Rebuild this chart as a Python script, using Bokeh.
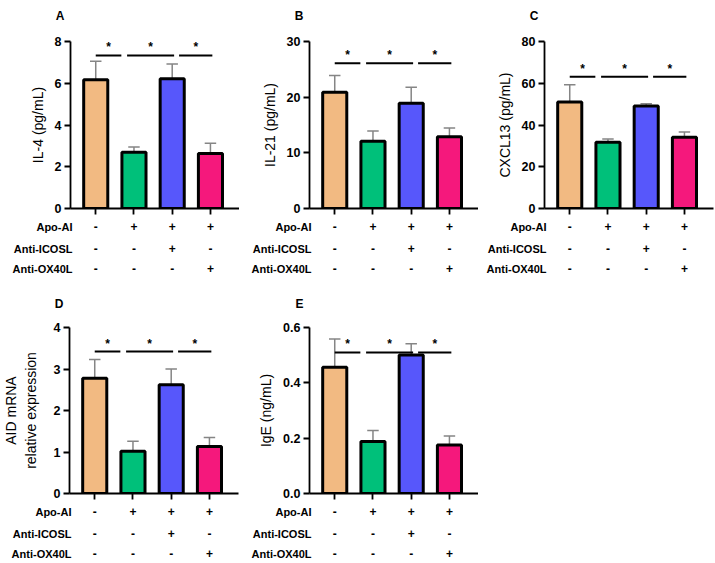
from bokeh.plotting import figure
from bokeh.models import Label, Range1d, FixedTicker
from bokeh.layouts import row, column
from bokeh.embed import file_html
from bokeh.resources import INLINE
from bokeh.core.properties import value

# ---------------- data ----------------
groups = [0, 1, 2, 3]
colors = ["#F2BA82", "#00C07A", "#5757FB", "#F5187C"]

il4_mean = [6.17, 2.70, 6.22, 2.64]
il4_err = [0.88, 0.25, 0.70, 0.48]

il21_mean = [20.9, 12.1, 18.9, 12.9]
il21_err = [3.0, 1.8, 2.9, 1.55]

cxcl13_mean = [51.0, 31.7, 49.1, 34.1]
cxcl13_err = [8.3, 1.6, 1.1, 2.6]

aid_mean = [2.78, 1.02, 2.62, 1.13]
aid_err = [0.45, 0.24, 0.38, 0.22]

ige_mean = [0.456, 0.188, 0.501, 0.175]
ige_err = [0.102, 0.040, 0.040, 0.033]

row_names = ["Apo-AI", "Anti-ICOSL", "Anti-OX40L"]
apo_ai = ["-", "+", "+", "+"]
anti_icosl = ["-", "-", "+", "-"]
anti_ox40l = ["-", "-", "-", "+"]
table_rows = [apo_ai, anti_icosl, anti_ox40l]

comparisons = [(0, 1), (1, 2), (2, 3)]
sig_labels = ["*", "*", "*"]

FONT = "Liberation Sans"
XS, XE = -0.66, 3.76
FRAME_W = 169


def bare(fig):
    fig.outline_line_color = None
    fig.xgrid.visible = False
    fig.ygrid.visible = False


def label_axis(ax, ticks, labels, size, standoff):
    ax.ticker = FixedTicker(ticks=ticks)
    ax.major_label_overrides = {y: n for y, n in zip(ticks, labels)}
    ax.axis_line_color = None
    ax.major_tick_line_color = None
    ax.minor_tick_line_color = None
    ax.major_label_standoff = standoff
    ax.major_label_text_font = FONT
    ax.major_label_text_font_size = size
    ax.major_label_text_font_style = "bold"
    ax.major_label_text_color = "black"


def panel(letter, mean, err, ymax, ticks, ylabel, sig_y, width, left, height, top, frame_h,
          head_h, letter_y, fmt=None, label_standoff=6):
    right = width - left - FRAME_W
    chart_top = top - head_h
    chart_h = chart_top + frame_h + 10

    # panel letter (header strip sharing the chart's frame edges)
    h = figure(width=width, height=head_h, output_backend="svg", toolbar_location=None,
               x_range=Range1d(XS, XE), y_range=Range1d(head_h, 0), x_axis_type=None,
               min_border_left=left, min_border_right=right, min_border_top=0,
               min_border_bottom=0)
    bare(h)
    label_axis(h.yaxis[0], [letter_y], [letter], "12px", 0)

    p = figure(width=width, height=chart_h, output_backend="svg", toolbar_location=None,
               x_range=Range1d(XS, XE), y_range=Range1d(0, ymax),
               min_border_left=left, min_border_right=right,
               min_border_top=chart_top, min_border_bottom=10)
    bare(p)

    # error bars (upper only)
    tops = [m + e for m, e in zip(mean, err)]
    p.segment(x0=groups, y0=mean, x1=groups, y1=tops, line_color="#858585", line_width=1.5)
    p.segment(x0=[g - 0.15 for g in groups], y0=tops, x1=[g + 0.15 for g in groups], y1=tops,
              line_color="#858585", line_width=1.5)

    # bars
    p.vbar(x=groups, top=mean, bottom=0, width=0.63, fill_color=colors,
           line_color="black", line_width=3)

    # significance lines
    lpad = [0.0, -0.18, 0.18]
    rpad = [-0.33, 0.05, 0.05]
    for k, (a, b) in enumerate(comparisons):
        x0 = a + lpad[k]
        x1 = b + rpad[k]
        p.segment(x0=[x0], y0=[sig_y], x1=[x1], y1=[sig_y], line_color="black", line_width=2)
        p.add_layout(Label(x=(x0 + x1) / 2, y=sig_y, y_offset=1, text=sig_labels[k],
                           text_align="center", text_baseline="bottom", text_color="black",
                           text_font=FONT, text_font_size="12px", text_font_style="bold"))

    # axes
    ya = p.yaxis[0]
    ya.ticker = FixedTicker(ticks=ticks)
    ya.minor_tick_line_color = None
    ya.major_tick_out = 6
    ya.major_tick_in = 0
    ya.axis_line_width = 1.8
    ya.major_tick_line_width = 1.8
    ya.major_label_text_font = FONT
    ya.major_label_text_font_size = "12.5px"
    ya.major_label_text_font_style = "bold"
    ya.major_label_text_color = "black"
    ya.major_label_standoff = 3
    ya.axis_label = ylabel
    ya.axis_label_text_font = FONT
    ya.axis_label_text_font_size = "14px"
    ya.axis_label_text_font_style = "normal"
    ya.axis_label_text_color = "black"
    ya.axis_label_standoff = label_standoff
    if fmt is not None:
        ya.major_label_overrides = {t: fmt.format(t) for t in ticks}

    xa = p.xaxis[0]
    xa.ticker = FixedTicker(ticks=groups)
    xa.minor_tick_line_color = None
    xa.major_tick_out = 6
    xa.major_tick_in = 0
    xa.axis_line_width = 1.8
    xa.major_tick_line_width = 1.8
    xa.major_label_overrides = {g: "" for g in groups}
    xa.major_label_text_font_size = "0px"
    xa.major_label_standoff = 0

    # condition table under the axis: same frame/x scale as the chart,
    # row names are the tick labels of its own y axis
    table_h = height - head_h - chart_h
    row_y = [8, 30, 50]
    t = figure(width=width, height=table_h, output_backend="svg", toolbar_location=None,
               x_range=Range1d(XS, XE), y_range=Range1d(table_h, 0), x_axis_type=None,
               min_border_left=left, min_border_right=right, min_border_top=0,
               min_border_bottom=0)
    bare(t)
    label_axis(t.yaxis[0], row_y, row_names, "11px", -8)
    for r, syms in enumerate(table_rows):
        t.text(x=groups, y=[row_y[r]] * 4, text=syms, text_align="center", text_baseline="middle",
               text_font=value(FONT), text_font_size="12px", text_font_style="bold",
               text_color="black")
    return column(h, p, t, spacing=0)


pA = panel("A", il4_mean, il4_err, 8, [0, 2, 4, 6, 8], "IL-4 (pg/mL)", 7.33,
           239, 70, 283, 41, 167, 26, 15)
pB = panel("B", il21_mean, il21_err, 30, [0, 10, 20, 30], "IL-21 (pg/mL)", 26.1,
           239, 70, 283, 41, 167, 26, 15)
pC = panel("C", cxcl13_mean, cxcl13_err, 80, [0, 20, 40, 60, 80], "CXCL13 (pg/mL)", 63.1,
           237, 66, 283, 41, 167, 26, 15)
pD = panel("D", aid_mean, aid_err, 4, [0, 1, 2, 3, 4], "AID mRNA\nrelative expression", 3.42,
           239, 69, 280, 44, 166, 28, 20, label_standoff=12)
pE = panel("E", ige_mean, ige_err, 0.6, [0, 0.2, 0.4, 0.6], "IgE (ng/mL)", 0.51,
           239, 70, 280, 44, 166, 28, 20, fmt="{:.1f}")

layout = column(row(pA, pB, pC, spacing=0), row(pD, pE, spacing=0), spacing=0)

open("out.html", "w").write(file_html(layout, INLINE))
